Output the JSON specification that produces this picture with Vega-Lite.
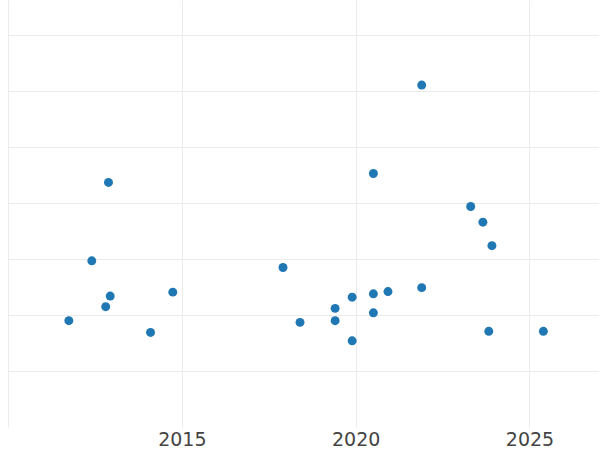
{
  "$schema": "https://vega.github.io/schema/vega-lite/v6.json",
  "width": 591,
  "height": 427,
  "padding": {"left": 8, "top": 0, "right": 0, "bottom": 0},
  "background": "white",
  "config": {
    "view": {"stroke": null},
    "font": "DejaVu Sans"
  },
  "data": {
    "values": [
      {"year": 2011.75, "value": 1.90},
      {"year": 2012.41, "value": 2.97},
      {"year": 2012.81, "value": 2.15},
      {"year": 2012.89, "value": 4.37},
      {"year": 2012.94, "value": 2.34},
      {"year": 2014.10, "value": 1.69},
      {"year": 2014.74, "value": 2.41},
      {"year": 2017.91, "value": 2.85},
      {"year": 2018.40, "value": 1.87},
      {"year": 2019.41, "value": 2.12},
      {"year": 2019.41, "value": 1.90},
      {"year": 2019.90, "value": 2.32},
      {"year": 2019.90, "value": 1.54},
      {"year": 2020.51, "value": 4.53},
      {"year": 2020.51, "value": 2.38},
      {"year": 2020.51, "value": 2.04},
      {"year": 2020.93, "value": 2.42},
      {"year": 2021.90, "value": 6.11},
      {"year": 2021.90, "value": 2.49},
      {"year": 2023.31, "value": 3.94},
      {"year": 2023.66, "value": 3.66},
      {"year": 2023.83, "value": 1.71},
      {"year": 2023.92, "value": 3.24},
      {"year": 2025.40, "value": 1.71}
    ]
  },
  "mark": {"type": "circle", "size": 80, "color": "#1f77b4", "opacity": 1},
  "encoding": {
    "x": {
      "field": "year",
      "type": "quantitative",
      "scale": {"domain": [2010, 2027], "nice": false, "zero": false},
      "axis": {
        "values": [2010, 2015, 2020, 2025],
        "format": "d",
        "labelExpr": "datum.value == 2010 ? '' : datum.label",
        "title": null,
        "domain": false,
        "ticks": false,
        "labelFont": "DejaVu Sans",
        "labelFontSize": 19,
        "labelColor": "#444444",
        "labelPadding": 3,
        "gridColor": "#ebebeb",
        "gridWidth": 1
      }
    },
    "y": {
      "field": "value",
      "type": "quantitative",
      "scale": {"domain": [0, 7.63], "nice": false, "zero": false},
      "axis": {
        "values": [1, 2, 3, 4, 5, 6, 7],
        "labels": false,
        "ticks": false,
        "domain": false,
        "title": null,
        "gridColor": "#ebebeb",
        "gridWidth": 1
      }
    }
  }
}
